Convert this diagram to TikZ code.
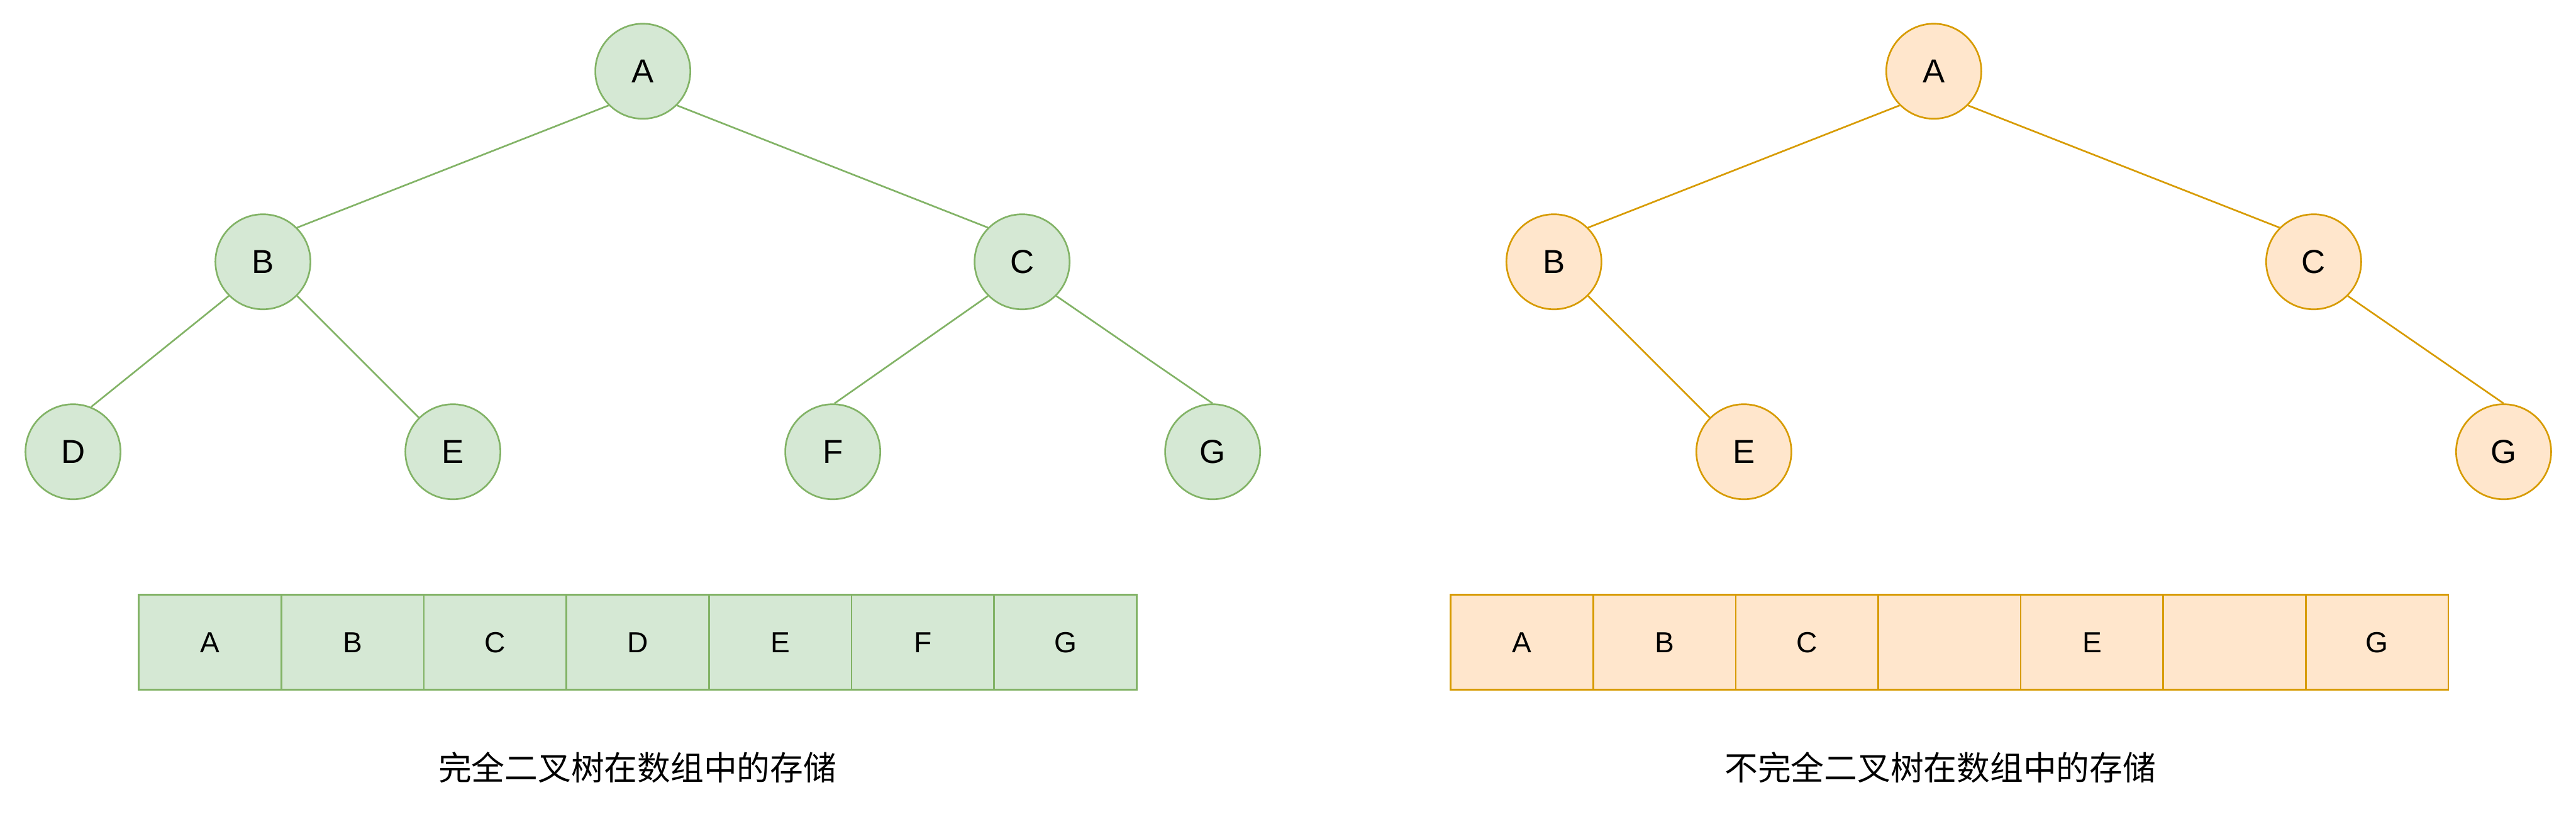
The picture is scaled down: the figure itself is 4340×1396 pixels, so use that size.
\documentclass[tikz,border=0pt]{standalone}
\usepackage{fontspec}
\setmainfont{Liberation Sans}
\newfontfamily\cjk{Noto Sans CJK SC}
\usepackage{xcolor}
\usepackage{tikz}
\usetikzlibrary{positioning}
\definecolor{gfill}{HTML}{D5E8D4}
\definecolor{gline}{HTML}{82B366}
\definecolor{ofill}{HTML}{FFE6CC}
\definecolor{oline}{HTML}{D79B00}

\begin{document}
\begin{tikzpicture}[
  x=0.01cm, y=-0.01cm,
  vert/.style={draw, circle, line width=0.8pt, minimum size=1.6cm, inner sep=0pt, font=\fontsize{15.9}{19}\selectfont},
  gv/.style={vert, draw=gline, fill=gfill},
  ov/.style={vert, draw=oline, fill=ofill},
  cell/.style={draw, line width=0.8pt, minimum width=2.4cm, minimum height=1.6cm, inner sep=0pt, outer sep=0pt, font=\fontsize{13.9}{17}\selectfont},
  gc/.style={cell, draw=gline, fill=gfill},
  oc/.style={cell, draw=oline, fill=ofill},
  gedge/.style={draw=gline, line width=0.8pt},
  oedge/.style={draw=oline, line width=0.8pt},
  caption/.style={font=\cjk\fontsize{15.9}{19}\selectfont}
]
\useasboundingbox (0,0) rectangle (4340,1396);
% complete binary tree
\node[gv] (gA) at (1083,120) {A};
\node[gv] (gB) at (443,441) {B};
\node[gv] (gC) at (1722,441) {C};
\node[gv] (gD) at (123,761) {D};
\node[gv] (gE) at (763,761) {E};
\node[gv] (gF) at (1403,761) {F};
\node[gv] (gG) at (2043,761) {G};
\draw[gedge] (gA.225) -- (gB.45);
\draw[gedge] (gA.315) -- (gC.135);
\draw[gedge] (gB.225) -- (gD.68);
\draw[gedge] (gB.315) -- (gE.135);
\draw[gedge] (gC.225) -- (gF.88);
\draw[gedge] (gC.315) -- (gG.90);
% its array
\node[gc] (g1) at (354,1082) {A};
\node[gc, right=0pt of g1] (g2) {B};
\node[gc, right=0pt of g2] (g3) {C};
\node[gc, right=0pt of g3] (g4) {D};
\node[gc, right=0pt of g4] (g5) {E};
\node[gc, right=0pt of g5] (g6) {F};
\node[gc, right=0pt of g6] (g7) {G};
\node[caption] (gcap) at (1074,1293) {完全二叉树在数组中的存储};
% incomplete binary tree
\node[ov] (oA) at (3258,120) {A};
\node[ov] (oB) at (2618,441) {B};
\node[ov] (oC) at (3898,441) {C};
\node[ov] (oE) at (2938,761) {E};
\node[ov] (oG) at (4218,761) {G};
\draw[oedge] (oA.225) -- (oB.45);
\draw[oedge] (oA.315) -- (oC.135);
\draw[oedge] (oB.315) -- (oE.135);
\draw[oedge] (oC.315) -- (oG.90);
% its array
\node[oc] (o1) at (2564,1082) {A};
\node[oc, right=0pt of o1] (o2) {B};
\node[oc, right=0pt of o2] (o3) {C};
\node[oc, right=0pt of o3] (o4) {};
\node[oc, right=0pt of o4] (o5) {E};
\node[oc, right=0pt of o5] (o6) {};
\node[oc, right=0pt of o6] (o7) {G};
\node[caption] (ocap) at (3269,1293) {不完全二叉树在数组中的存储};
\end{tikzpicture}
\end{document}
